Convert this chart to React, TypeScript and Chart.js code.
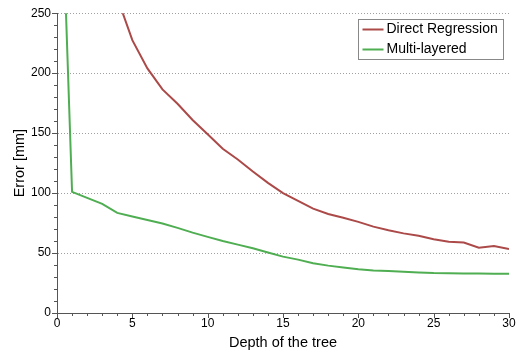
import React, { useEffect, useRef } from "react";
import { Chart, registerables } from "chart.js";

Chart.register(...registerables);

const depth = [0, 1, 2, 3, 4, 5, 6, 7, 8, 9, 10, 11, 12, 13, 14, 15, 16, 17, 18, 19, 20, 21, 22, 23, 24, 25, 26, 27, 28, 29, 30];
const multiLayered = [470, 101, 96, 91, 83.5, 80.5, 77.5, 74.7, 71, 67, 63.5, 60, 57, 54, 50.5, 47, 44.5, 41.5, 39.5, 38, 36.5, 35.5, 35, 34.3, 33.8, 33.3, 33.2, 33, 32.9, 32.8, 32.8];
const directDepth = [4, 5, 6, 7, 8, 9, 10, 11, 12, 13, 14, 15, 16, 17, 18, 19, 20, 21, 22, 23, 24, 25, 26, 27, 28, 29, 30];
const directRegression = [263, 227.5, 204, 186.5, 174.5, 161, 149, 137, 128, 118, 108.5, 100, 93.5, 87, 82.5, 79.5, 76, 72, 69, 66.4, 64.4, 61.5, 59.5, 58.8, 54.5, 55.8, 53.3];
const xTicks = [0, 5, 10, 15, 20, 25, 30];
const yTicks = [0, 50, 100, 150, 200, 250];
const seriesNames = ["Direct Regression", "Multi-layered"];
const seriesColors = ["#ab4a48", "#4fae52"];

const FONT = "'Liberation Sans', Arial, sans-serif";

const gridPlugin = {
  id: "dottedGrid",
  beforeDatasetsDraw(chart: any) {
    const ctx = chart.ctx;
    const ys = chart.scales.y;
    const area = chart.chartArea;
    ctx.save();
    ctx.strokeStyle = "#a0a0a0";
    ctx.lineWidth = 1;
    ctx.setLineDash([1, 2]);
    ctx.beginPath();
    yTicks.forEach((v) => {
      if (v === ys.min) return;
      const py = Math.round(ys.getPixelForValue(v)) + 0.5;
      ctx.moveTo(area.left + 1, py);
      ctx.lineTo(area.right, py);
    });
    ctx.stroke();
    ctx.restore();
  },
};

const minorTicksPlugin = {
  id: "minorTicks",
  afterDraw(chart: any) {
    const ctx = chart.ctx;
    const xs = chart.scales.x;
    const ys = chart.scales.y;
    const area = chart.chartArea;
    ctx.save();
    ctx.strokeStyle = "#555";
    ctx.lineWidth = 1;
    ctx.beginPath();
    for (let v = xs.min; v <= xs.max; v += 1) {
      const px = Math.round(xs.getPixelForValue(v)) + 0.5;
      const len = v % 5 === 0 ? 5 : 3;
      ctx.moveTo(px, area.bottom);
      ctx.lineTo(px, area.bottom + len);
    }
    for (let v = ys.min; v <= ys.max; v += 10) {
      const py = Math.round(ys.getPixelForValue(v)) + 0.5;
      const len = v % 50 === 0 ? 5 : 3;
      ctx.moveTo(area.left, py);
      ctx.lineTo(area.left - len, py);
    }
    ctx.stroke();
    // legend box
    const bx = 358.5, by = 19.5, bw = 145, bh = 40;
    ctx.fillStyle = "#fff";
    ctx.fillRect(bx, by, bw, bh);
    ctx.strokeStyle = "#888";
    ctx.strokeRect(bx, by, bw, bh);
    ctx.font = `14px ${FONT}`;
    ctx.textBaseline = "middle";
    chart.data.datasets.forEach((ds: any, i: number) => {
      const yy = by + 10 + i * 20;
      ctx.strokeStyle = ds.borderColor;
      ctx.lineWidth = 2;
      ctx.beginPath();
      ctx.moveTo(bx + 4, yy);
      ctx.lineTo(bx + 25, yy);
      ctx.stroke();
      ctx.fillStyle = "#000";
      ctx.fillText(ds.label, bx + 28, yy);
    });
    ctx.restore();
  },
};

export default function App() {
  const ref = useRef<HTMLCanvasElement>(null);
  useEffect(() => {
    const chart = new Chart(ref.current!, {
      type: "line",
      data: {
        datasets: [
          {
            label: seriesNames[0],
            data: directDepth.map((x, i) => ({ x, y: directRegression[i] })),
            borderColor: seriesColors[0],
            backgroundColor: seriesColors[0],
            borderWidth: 2,
            pointRadius: 0,
            tension: 0,
          },
          {
            label: seriesNames[1],
            data: depth.map((x, i) => ({ x, y: multiLayered[i] })),
            borderColor: seriesColors[1],
            backgroundColor: seriesColors[1],
            borderWidth: 2,
            pointRadius: 0,
            tension: 0,
          },
        ],
      },
      options: {
        animation: false,
        responsive: false,
        maintainAspectRatio: false,
        layout: { padding: { top: 13, right: 17, left: 0, bottom: 0 } },
        plugins: { legend: { display: false }, tooltip: { enabled: false } },
        scales: {
          x: {
            type: "linear",
            min: 0,
            max: 30,
            afterBuildTicks: (s: any) => {
              s.ticks = xTicks.map((v) => ({ value: v }));
            },
            afterFit: (s: any) => {
              s.height = 39;
            },
            grid: { display: false, drawTicks: false },
            border: { display: true, color: "#555", width: 1 },
            ticks: {
              color: "#000",
              font: { family: FONT, size: 12 },
              padding: 3,
              maxRotation: 0,
            },
            title: {
              display: true,
              text: "Depth of the tree",
              color: "#000",
              font: { family: FONT, size: 14.5 },
              padding: { top: 0, bottom: 0 },
            },
          },
          y: {
            type: "linear",
            min: 0,
            max: 250,
            afterBuildTicks: (s: any) => {
              s.ticks = yTicks.map((v) => ({ value: v }));
            },
            afterFit: (s: any) => {
              s.width = 57;
            },
            grid: { display: false, drawTicks: false },
            border: { display: true, color: "#555", width: 1 },
            ticks: {
              color: "#000",
              font: { family: FONT, size: 12 },
              padding: 6,
            },
            title: {
              display: true,
              text: "Error [mm]",
              color: "#000",
              font: { family: FONT, size: 14.5 },
              padding: { top: 11, bottom: 0 },
            },
          },
        },
      },
      plugins: [gridPlugin, minorTicksPlugin],
    } as any);
    return () => chart.destroy();
  }, []);
  return (
    <div style={{ position: "fixed", left: 0, top: 0, width: 526, height: 352, background: "#fff" }}>
      <canvas ref={ref} width={526} height={352} style={{ width: 526, height: 352 }} />
    </div>
  );
}
